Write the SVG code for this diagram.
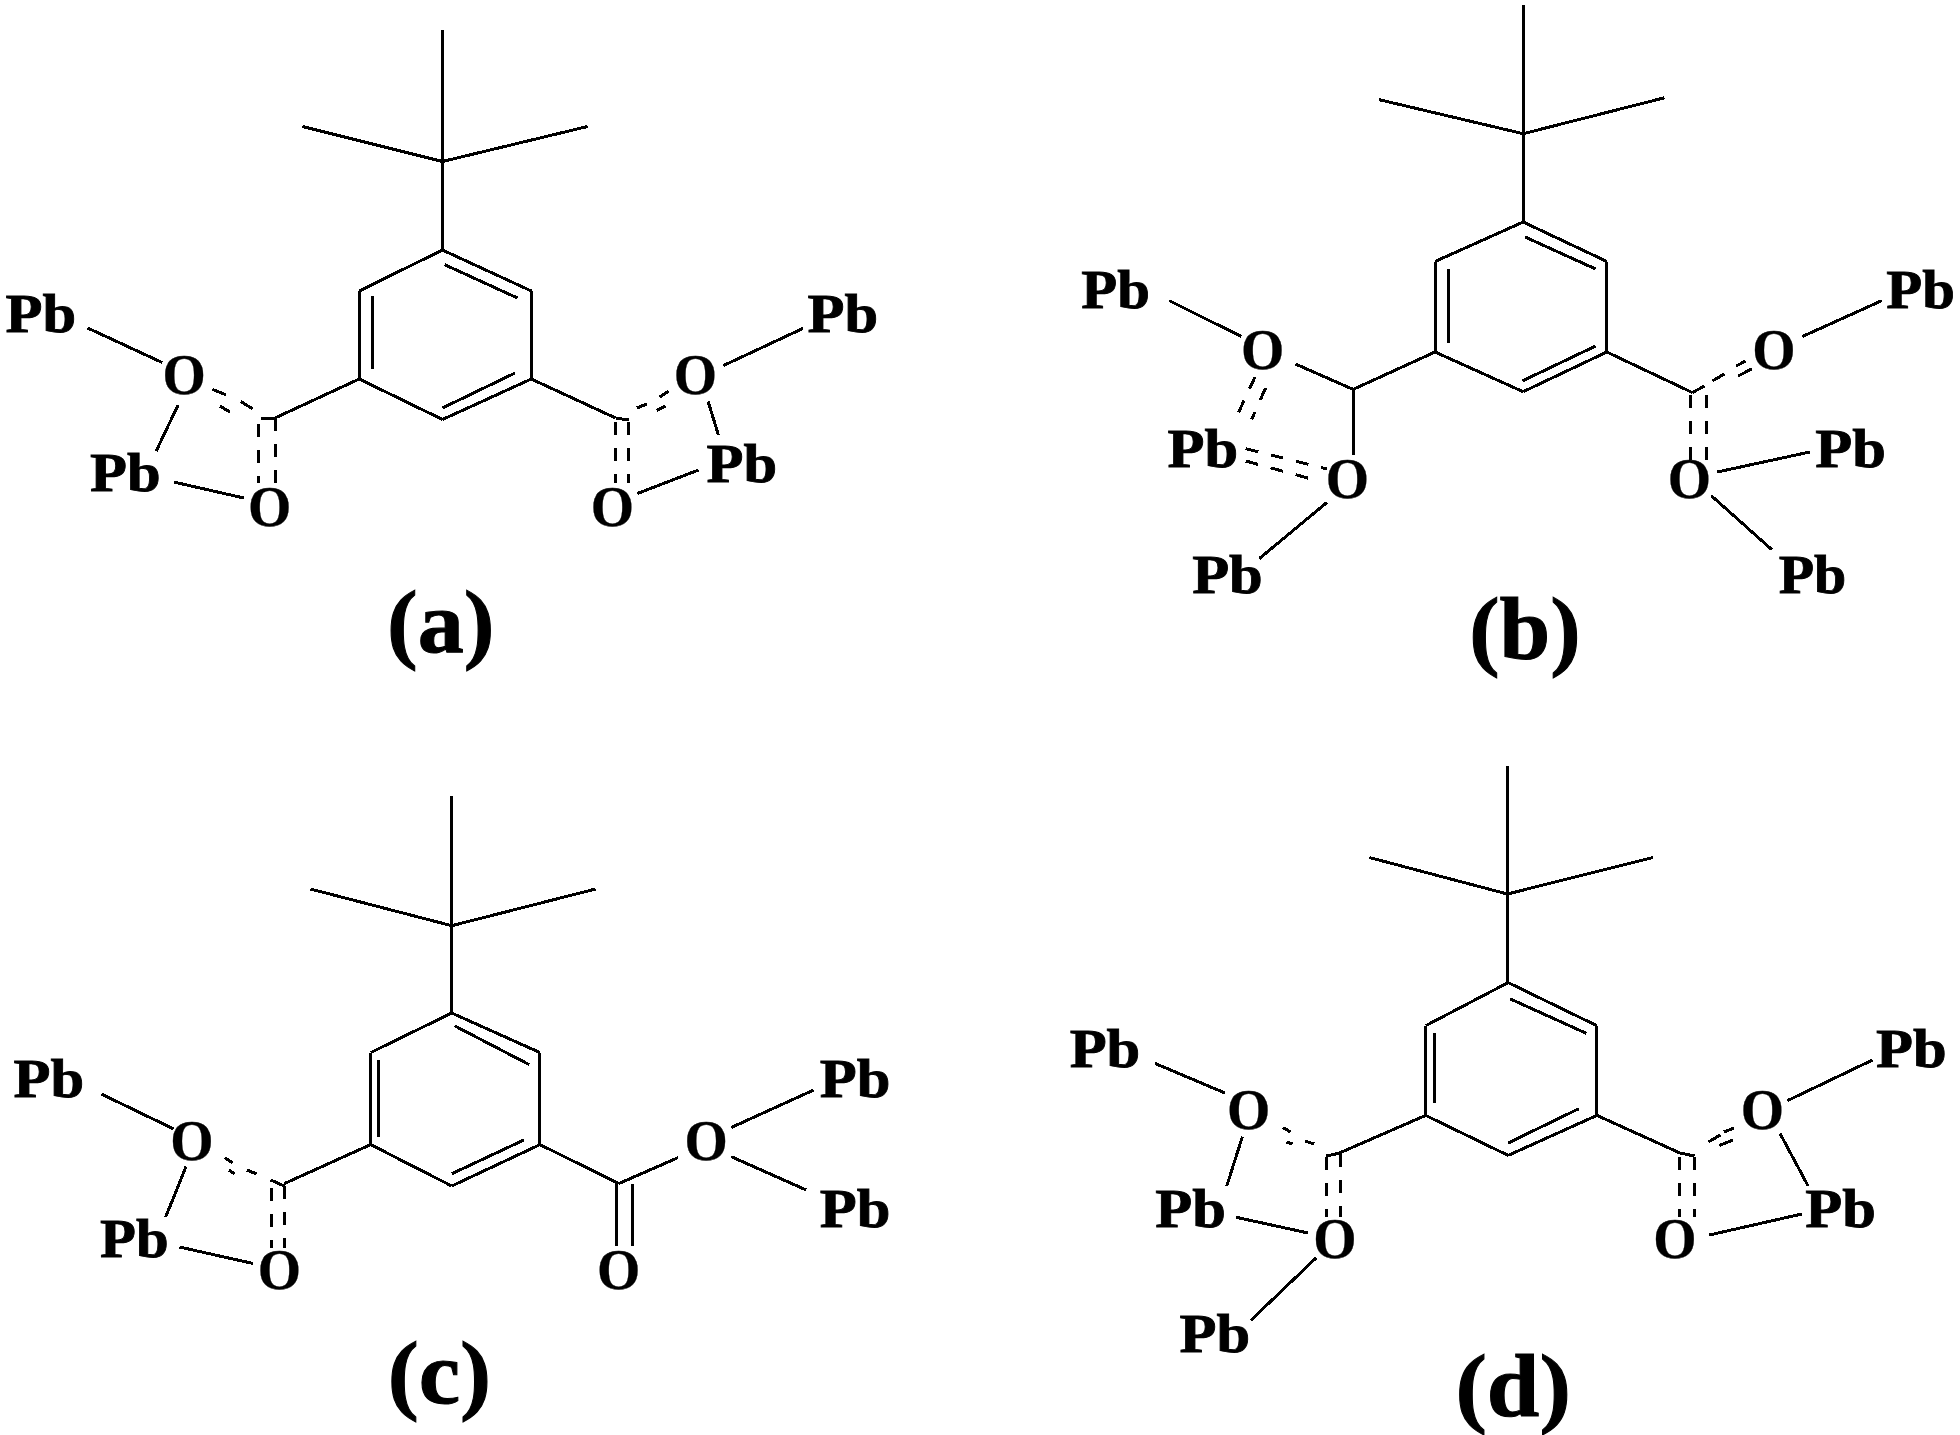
<svg xmlns="http://www.w3.org/2000/svg" width="1960" height="1435" viewBox="0 0 1960 1435">
<style>
line{stroke:#000;stroke-width:3;stroke-linecap:butt;shape-rendering:crispEdges}
.d{stroke-dasharray:13 13}
text{font-family:"Liberation Serif","Times New Roman",serif;font-weight:700;fill:#000;stroke:#000;text-anchor:middle}
.pb{font-size:54px;stroke-width:.8px}
.o{font-size:56px;stroke-width:.3px}
.lab{font-size:88px;stroke-width:1px}
</style>
<rect width="1960" height="1435" fill="#fff"/>
<g id="connectors">
<g id="bonds-a" transform="matrix(.995 0 0 1 0 0)">
<line x1="444.7" y1="29.6" x2="444.7" y2="250"/><line x1="304" y1="126.5" x2="444.7" y2="161.5"/><line x1="590.5" y1="126.5" x2="444.7" y2="161.5"/>
<line x1="444.7" y1="250" x2="361" y2="291"/><line x1="361" y1="291" x2="361" y2="379"/><line x1="361" y1="379" x2="444.7" y2="419.5"/><line x1="444.7" y1="419.5" x2="534" y2="379"/><line x1="534" y1="379" x2="534" y2="291"/><line x1="534" y1="291" x2="444.7" y2="250"/>
<line x1="447" y1="264.7" x2="520" y2="298"/><line x1="374" y1="296" x2="374" y2="369"/><line x1="444.7" y1="408" x2="517.6" y2="373"/>
<line x1="361" y1="379" x2="276.4" y2="418"/><line x1="534" y1="379" x2="618.7" y2="418"/>
<line x1="213.6" y1="389.4" x2="227" y2="394.8"/><line x1="221" y1="406" x2="231" y2="412"/><line x1="242" y1="401.5" x2="254" y2="409"/><line x1="262" y1="419" x2="276" y2="418"/>
<line class="d" x1="276.4" y1="418" x2="276.4" y2="483"/><line class="d" x1="260" y1="424" x2="260" y2="483"/>
<line x1="88" y1="328" x2="163" y2="362.5"/><line x1="179" y1="405" x2="157" y2="451"/><line x1="174.6" y1="482" x2="245" y2="498"/>
<line x1="640" y1="408" x2="650" y2="404"/><line x1="660" y1="410.5" x2="669" y2="406"/><line x1="663" y1="397" x2="672" y2="391"/><line x1="618.7" y1="418" x2="632" y2="420"/>
<line class="d" x1="618.7" y1="422" x2="618.7" y2="483"/><line class="d" x1="632" y1="422" x2="632" y2="483"/>
<line x1="727" y1="365.6" x2="807" y2="328.4"/><line x1="711.7" y1="401.5" x2="722" y2="435"/><line x1="640.7" y1="493.5" x2="702" y2="470"/>
</g>
<g id="bonds-b" transform="matrix(.995 0 0 1 4.9 0)">
<line x1="1525.9" y1="5.4" x2="1525.9" y2="222"/><line x1="1380.8" y1="99.6" x2="1525.9" y2="133.7"/><line x1="1667.8" y1="97.8" x2="1525.9" y2="133.7"/>
<line x1="1525.9" y1="222" x2="1437.3" y2="261.5"/><line x1="1437.3" y1="261.5" x2="1437.3" y2="352"/><line x1="1437.3" y1="352" x2="1525.9" y2="391.7"/><line x1="1525.9" y1="391.7" x2="1610" y2="352"/><line x1="1610" y1="352" x2="1610" y2="261.5"/><line x1="1610" y1="261.5" x2="1525.9" y2="222"/>
<line x1="1527.7" y1="236.9" x2="1598.7" y2="269"/><line x1="1451" y1="269" x2="1451" y2="343"/><line x1="1525" y1="381" x2="1598.7" y2="346"/>
<line x1="1437.3" y1="352" x2="1355" y2="389.4"/><line x1="1355" y1="389.4" x2="1297" y2="364"/><line x1="1355" y1="389.4" x2="1355" y2="455"/>
<line x1="1170" y1="300.6" x2="1242.6" y2="336.5"/>
<line class="d" x1="1256.4" y1="377" x2="1234.4" y2="424"/><line class="d" x1="1267" y1="388" x2="1253" y2="419.5"/>
<line class="d" x1="1247" y1="448.6" x2="1328.6" y2="469"/><line class="d" x1="1247" y1="461" x2="1313" y2="479"/>
<line x1="1328.6" y1="502.5" x2="1260.8" y2="558.5"/>
<line x1="1610" y1="352" x2="1696" y2="392.6"/>
<line x1="1696" y1="392.6" x2="1708" y2="386"/><line x1="1716" y1="381" x2="1728" y2="374"/><line x1="1740" y1="366" x2="1749.5" y2="361"/><line x1="1742" y1="376" x2="1755.8" y2="368.8"/>
<line class="d" x1="1694" y1="395" x2="1694" y2="460"/><line class="d" x1="1710" y1="395" x2="1710" y2="460"/>
<line x1="1806.6" y1="336.5" x2="1886.4" y2="300.6"/><line x1="1721" y1="472" x2="1814" y2="452"/><line x1="1715" y1="495.7" x2="1775.8" y2="549.6"/>
</g>
<g id="bonds-c" transform="matrix(.995 0 0 1 0 0)">
<line x1="454" y1="795.6" x2="454" y2="1013"/><line x1="312" y1="889" x2="454" y2="925.7"/><line x1="598.6" y1="889" x2="454" y2="925.7"/>
<line x1="454" y1="1013" x2="372.5" y2="1052.6"/><line x1="372.5" y1="1052.6" x2="372.5" y2="1144.6"/><line x1="372.5" y1="1144.6" x2="454" y2="1186"/><line x1="454" y1="1186" x2="542.7" y2="1144.6"/><line x1="542.7" y1="1144.6" x2="542.7" y2="1052.6"/><line x1="542.7" y1="1052.6" x2="454" y2="1013"/>
<line x1="456.7" y1="1025.7" x2="532" y2="1064.7"/><line x1="380.6" y1="1060" x2="380.6" y2="1136.5"/><line x1="454" y1="1173.8" x2="526.4" y2="1140"/>
<line x1="372.5" y1="1144.6" x2="285.8" y2="1183.6"/>
<line x1="226" y1="1157.6" x2="234" y2="1163"/><line x1="230" y1="1170" x2="236" y2="1174"/><line x1="248" y1="1170" x2="258" y2="1174"/><line x1="272" y1="1180" x2="285.8" y2="1186"/>
<line class="d" x1="285.8" y1="1186" x2="285.8" y2="1248"/><line class="d" x1="272.6" y1="1188" x2="272.6" y2="1248"/>
<line x1="101.8" y1="1094" x2="174.6" y2="1129"/><line x1="187" y1="1166.6" x2="166.5" y2="1217"/><line x1="180.3" y1="1247" x2="254.4" y2="1263.5"/>
<line x1="542.7" y1="1144.6" x2="621.9" y2="1183.6"/><line x1="621.9" y1="1183.6" x2="681.5" y2="1157.6"/>
<line x1="620" y1="1183.6" x2="620" y2="1246"/><line x1="635.7" y1="1183.6" x2="635.7" y2="1246"/>
<line x1="735" y1="1127.5" x2="817.8" y2="1090"/><line x1="735" y1="1156.7" x2="810.3" y2="1190"/>
</g>
<g id="bonds-d" transform="matrix(.995 0 0 1 4.9 0)">
<line x1="1510" y1="765.5" x2="1510" y2="982.6"/><line x1="1371.3" y1="857.5" x2="1510" y2="894"/><line x1="1656.5" y1="857.5" x2="1510" y2="894"/>
<line x1="1510.8" y1="982.6" x2="1427.9" y2="1025.7"/><line x1="1427.9" y1="1025.7" x2="1427.9" y2="1115.4"/><line x1="1427.9" y1="1115.4" x2="1510.8" y2="1155.4"/><line x1="1510.8" y1="1155.4" x2="1600" y2="1115.4"/><line x1="1600" y1="1115.4" x2="1600" y2="1025.7"/><line x1="1600" y1="1025.7" x2="1510.8" y2="982.6"/>
<line x1="1512.7" y1="998.8" x2="1589.3" y2="1033.3"/><line x1="1436.7" y1="1033.3" x2="1436.7" y2="1103"/><line x1="1510.8" y1="1143" x2="1581.8" y2="1108.7"/>
<line x1="1427.9" y1="1115.4" x2="1341.2" y2="1153"/>
<line x1="1284.6" y1="1127.5" x2="1292" y2="1132"/><line x1="1288" y1="1142" x2="1294" y2="1144"/><line x1="1306.6" y1="1141" x2="1316" y2="1144"/><line x1="1328" y1="1156" x2="1342" y2="1153"/>
<line class="d" x1="1342.4" y1="1154" x2="1342.4" y2="1217"/><line class="d" x1="1328.6" y1="1157" x2="1328.6" y2="1217"/>
<line x1="1155.9" y1="1063.4" x2="1226.2" y2="1093"/><line x1="1243.8" y1="1136.5" x2="1228" y2="1186"/><line x1="1237.5" y1="1217.3" x2="1309.8" y2="1233"/><line x1="1318" y1="1257.7" x2="1252" y2="1320.5"/>
<line x1="1600" y1="1115.4" x2="1683.5" y2="1153"/>
<line x1="1712" y1="1142" x2="1724" y2="1135"/><line x1="1727.5" y1="1132" x2="1738" y2="1128"/><line x1="1723" y1="1145.5" x2="1737" y2="1140"/><line x1="1683.5" y1="1153" x2="1698" y2="1156"/>
<line class="d" x1="1683.5" y1="1156.7" x2="1683.5" y2="1217"/><line class="d" x1="1698" y1="1156.7" x2="1698" y2="1217"/>
<line x1="1791.6" y1="1100.6" x2="1877" y2="1060"/><line x1="1784" y1="1133.4" x2="1812.3" y2="1186"/><line x1="1713" y1="1235" x2="1806" y2="1214"/>
</g>
</g>
<g id="nodes-a" transform="matrix(.995 0 0 1 0 0)">
<g id="a-pb1"><text class="pb" x="41" y="332" textLength="71" lengthAdjust="spacingAndGlyphs">Pb</text></g>
<g id="a-pb2"><text class="pb" x="126" y="491" textLength="71" lengthAdjust="spacingAndGlyphs">Pb</text></g>
<g id="a-pb3"><text class="pb" x="847" y="332" textLength="71" lengthAdjust="spacingAndGlyphs">Pb</text></g>
<g id="a-pb4"><text class="pb" x="745.6" y="482" textLength="71" lengthAdjust="spacingAndGlyphs">Pb</text></g>
<g id="a-o1"><text class="o" x="185" y="394">O</text></g>
<g id="a-o2"><text class="o" x="271" y="526">O</text></g>
<g id="a-o3"><text class="o" x="699" y="394">O</text></g>
<g id="a-o4"><text class="o" x="615.6" y="526">O</text></g>
<g id="a-label"><text class="lab" x="443" y="652" textLength="108" lengthAdjust="spacingAndGlyphs">(a)</text></g>
</g>
<g id="nodes-b" transform="matrix(.995 0 0 1 4.9 0)">
<g id="b-pb1"><text class="pb" x="1116.3" y="307.7" textLength="69" lengthAdjust="spacingAndGlyphs">Pb</text></g>
<g id="b-pb2"><text class="pb" x="1204" y="467" textLength="71" lengthAdjust="spacingAndGlyphs">Pb</text></g>
<g id="b-pb3"><text class="pb" x="1228.7" y="592.6" textLength="71" lengthAdjust="spacingAndGlyphs">Pb</text></g>
<g id="b-pb4"><text class="pb" x="1925.4" y="307.7" textLength="69" lengthAdjust="spacingAndGlyphs">Pb</text></g>
<g id="b-pb5"><text class="pb" x="1855" y="467" textLength="71" lengthAdjust="spacingAndGlyphs">Pb</text></g>
<g id="b-pb6"><text class="pb" x="1816.7" y="592.6" textLength="68" lengthAdjust="spacingAndGlyphs">Pb</text></g>
<g id="b-o1"><text class="o" x="1264" y="369">O</text></g>
<g id="b-o2"><text class="o" x="1349.4" y="498">O</text></g>
<g id="b-o3"><text class="o" x="1777.8" y="369">O</text></g>
<g id="b-o4"><text class="o" x="1693" y="498">O</text></g>
<g id="b-label"><text class="lab" x="1527.7" y="659" textLength="112" lengthAdjust="spacingAndGlyphs">(b)</text></g>
</g>
<g id="nodes-c" transform="matrix(.995 0 0 1 0 0)">
<g id="c-pb1"><text class="pb" x="49" y="1097.4" textLength="71" lengthAdjust="spacingAndGlyphs">Pb</text></g>
<g id="c-pb2"><text class="pb" x="135" y="1256.7" textLength="69" lengthAdjust="spacingAndGlyphs">Pb</text></g>
<g id="c-pb3"><text class="pb" x="859.3" y="1097.4" textLength="71" lengthAdjust="spacingAndGlyphs">Pb</text></g>
<g id="c-pb4"><text class="pb" x="859.3" y="1226.6" textLength="71" lengthAdjust="spacingAndGlyphs">Pb</text></g>
<g id="c-o1"><text class="o" x="192.8" y="1160.4">O</text></g>
<g id="c-o2"><text class="o" x="280.8" y="1289">O</text></g>
<g id="c-o3"><text class="o" x="709.8" y="1160.4">O</text></g>
<g id="c-o4"><text class="o" x="621.9" y="1289">O</text></g>
<g id="c-label"><text class="lab" x="441.6" y="1403" textLength="104" lengthAdjust="spacingAndGlyphs">(c)</text></g>
</g>
<g id="nodes-d" transform="matrix(.995 0 0 1 4.9 0)">
<g id="d-pb1"><text class="pb" x="1105.6" y="1067.4" textLength="71" lengthAdjust="spacingAndGlyphs">Pb</text></g>
<g id="d-pb2"><text class="pb" x="1191.7" y="1226.7" textLength="71" lengthAdjust="spacingAndGlyphs">Pb</text></g>
<g id="d-pb3"><text class="pb" x="1216" y="1352" textLength="71" lengthAdjust="spacingAndGlyphs">Pb</text></g>
<g id="d-pb4"><text class="pb" x="1916" y="1067.4" textLength="71" lengthAdjust="spacingAndGlyphs">Pb</text></g>
<g id="d-pb5"><text class="pb" x="1845" y="1226.7" textLength="71" lengthAdjust="spacingAndGlyphs">Pb</text></g>
<g id="d-o1"><text class="o" x="1250" y="1129">O</text></g>
<g id="d-o2"><text class="o" x="1336.8" y="1257.7">O</text></g>
<g id="d-o3"><text class="o" x="1766.4" y="1129">O</text></g>
<g id="d-o4"><text class="o" x="1678.5" y="1257.7">O</text></g>
<g id="d-label"><text class="lab" x="1515.8" y="1416" textLength="116" lengthAdjust="spacingAndGlyphs">(d)</text></g>
</g>
</svg>
